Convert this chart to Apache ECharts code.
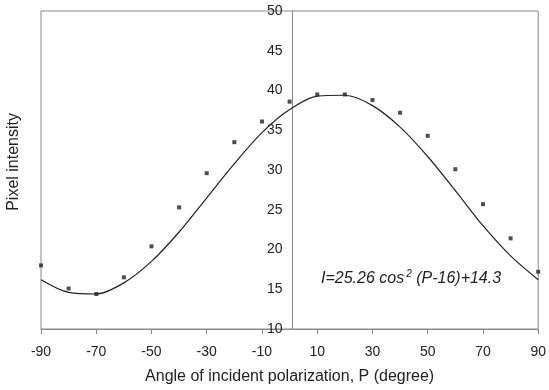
<!DOCTYPE html>
<html>
<head>
<meta charset="utf-8">
<script src="https://cdn.jsdelivr.net/npm/echarts@6/dist/echarts.min.js"></script>
<style>
  html, body { margin: 0; padding: 0; background: #fff; }
  #chart { width: 549px; height: 390px; }
</style>
</head>
<body>
<div id="chart"></div>
<script>
// measured points (angle, intensity)
const angles = [-90, -80, -70, -60, -50, -40, -30, -20, -10, 0, 10, 20, 30, 40, 50, 60, 70, 80, 90];
const measured = [18.0, 15.1, 14.4, 16.5, 20.4, 25.3, 29.6, 33.5, 36.1, 38.6, 39.5, 39.5, 38.8, 37.2, 34.3, 30.1, 25.7, 21.4, 17.2];

const fitAngles = [-90, -80, -70, -60, -50, -40, -30, -20, -10, 0, 10, 20, 30, 40, 50, 60, 70, 80, 90];
const fitValues = [16.2, 14.6, 14.4, 15.8, 18.5, 22.2, 26.5, 30.8, 34.7, 37.6, 39.3, 39.4, 38.1, 35.4, 31.7, 27.4, 23.0, 19.2, 16.2];

const xTicks = [-90, -70, -50, -30, -10, 10, 30, 50, 70, 90];

const font = "'Liberation Sans', Arial, sans-serif";
const ink = '#222';
const frame = '#8a8a8a';

const chart = echarts.init(document.getElementById('chart'));

// grid is 503px wide, so x = 0 sits 251.5px in from the left edge
const option = {
    animation: false,
    grid: {
        left: 41,
        right: 5,
        top: 11,
        bottom: 58,
        show: true,
        borderColor: frame,
        borderWidth: 1
    },
    xAxis: {
        type: 'value',
        min: -90,
        max: 90,
        name: 'Angle of incident polarization, P (degree)',
        nameLocation: 'middle',
        nameGap: 40,
        nameTextStyle: { color: ink, fontFamily: font, fontSize: 16 },
        axisLine: { show: true, lineStyle: { color: frame } },
        axisTick: { show: true, customValues: xTicks, length: 5, lineStyle: { color: frame } },
        axisLabel: { customValues: xTicks, color: ink, fontFamily: font, fontSize: 14, margin: 16 },
        splitLine: { show: false }
    },
    yAxis: {
        type: 'value',
        min: 10,
        max: 50,
        interval: 5,
        offset: -251.5,
        axisLine: { show: true, onZero: false, lineStyle: { color: frame } },
        axisTick: { show: false },
        axisLabel: { color: ink, fontFamily: font, fontSize: 14, margin: 10 },
        splitLine: { show: false }
    },
    graphic: [
        {
            type: 'text',
            left: 6,
            top: 113,
            rotation: Math.PI / 2,
            style: {
                text: 'Pixel intensity',
                fill: ink,
                font: '16px ' + font
            }
        },
        {
            type: 'text',
            left: 321,
            top: 269,
            style: {
                text: '{a|I=25.26 cos}{s|2}{a| (P-16)+14.3}',
                rich: {
                    a: { fontSize: 16, fontStyle: 'italic', fontFamily: font, fill: ink, verticalAlign: 'bottom' },
                    s: { fontSize: 10, fontStyle: 'italic', fontFamily: font, fill: ink, verticalAlign: 'top', padding: [0, 0, 8, 2] }
                }
            }
        }
    ],
    series: [
        {
            name: 'fit',
            type: 'line',
            data: fitAngles.map((a, i) => [a, fitValues[i]]),
            smooth: 0.3,
            symbol: 'none',
            lineStyle: { color: ink, width: 1.2 }
        },
        {
            name: 'measured',
            type: 'scatter',
            data: angles.map((a, i) => [a, measured[i]]),
            symbol: 'rect',
            symbolSize: 4,
            itemStyle: { color: ink }
        }
    ]
};

chart.setOption(option);
</script>
</body>
</html>
